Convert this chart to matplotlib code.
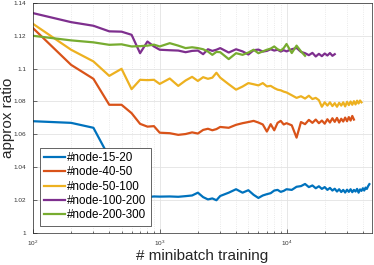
import numpy as np
import matplotlib.pyplot as plt

plt.rcParams['font.family'] = ['Liberation Sans', 'DejaVu Sans']

# minibatch index grid (samples every 100 early, sparser later)
steps = np.concatenate([
    np.arange(100, 1001, 100),
    np.arange(1200, 3001, 200),
    np.arange(3500, 10001, 500),
    np.arange(11000, 45001, 1000),
])

node_15_20 = [1.068, 1.067, 1.064, 1.046, 1.031, 1.0225, 1.022, 1.0218, 1.0222, 1.0221,
              1.0222, 1.022, 1.0224, 1.0228, 1.0245, 1.0218, 1.0204, 1.021, 1.0199, 1.0225,
              1.0245, 1.0266, 1.0245, 1.026, 1.0232, 1.0213, 1.0228, 1.0236, 1.0242, 1.0258,
              1.0262, 1.025, 1.0256, 1.0266,
              1.0262, 1.0281, 1.0285, 1.0298, 1.0279, 1.0289, 1.0272, 1.0284, 1.0268, 1.0279,
              1.0262, 1.0274, 1.0258, 1.0269, 1.0252, 1.0266, 1.0249, 1.0262, 1.0246, 1.0263,
              1.0250, 1.0266, 1.0248, 1.0262, 1.0252, 1.0268, 1.0245, 1.0265, 1.0256, 1.0272,
              1.0258, 1.0276, 1.0268, 1.0285, 1.0297]
node_40_50 = [1.1247, 1.1023, 1.0938, 1.078, 1.078, 1.0729, 1.0664, 1.0647, 1.065, 1.061,
              1.0607, 1.0597, 1.0602, 1.0612, 1.0605, 1.0627, 1.0634, 1.0625, 1.0632, 1.0645,
              1.064, 1.0658, 1.0668, 1.0675, 1.0682, 1.0672, 1.066, 1.0617, 1.0662, 1.0625,
              1.067, 1.0682, 1.066, 1.0668,
              1.0655, 1.0580, 1.0675, 1.0662, 1.0688, 1.0670, 1.0690, 1.0668, 1.0684, 1.0665,
              1.0692, 1.0672, 1.0698, 1.0676, 1.0700, 1.0672, 1.0695, 1.0678, 1.0702, 1.0680,
              1.0705, 1.0684, 1.0712, 1.0690]
node_50_100 = [1.1273, 1.1115, 1.1044, 1.0956, 1.0999, 1.0875, 1.0932, 1.093, 1.0932, 1.0907,
               1.0940, 1.0895, 1.0928, 1.0950, 1.0925, 1.0948, 1.0938, 1.0945, 1.0975, 1.0945,
               1.0905, 1.0872, 1.0891, 1.0912, 1.0905, 1.0898, 1.0912, 1.0892, 1.0895, 1.0882,
               1.0872, 1.0868, 1.086, 1.0855,
               1.0838, 1.0822, 1.0832, 1.0818, 1.0835, 1.0815, 1.0822, 1.0808, 1.0768, 1.0795,
               1.0775, 1.0795, 1.0772, 1.0790, 1.0768, 1.0792, 1.0775, 1.0795, 1.0770, 1.0798,
               1.0778, 1.0800, 1.0780, 1.0802, 1.0782, 1.0805, 1.0788, 1.0806, 1.0795]
node_100_200 = [1.1338, 1.1283, 1.1261, 1.1227, 1.1225, 1.1206, 1.1094, 1.1165, 1.1135, 1.1115,
                1.1112, 1.1110, 1.1100, 1.1108, 1.1110, 1.1088, 1.1118, 1.1108, 1.1115, 1.1125,
                1.1098, 1.1118, 1.1105, 1.1086, 1.1112, 1.1116, 1.1104, 1.1108, 1.1118, 1.1110,
                1.1115, 1.1104, 1.1112, 1.1105,
                1.1118, 1.1126, 1.1102, 1.1094, 1.1082, 1.1096, 1.1074, 1.1090, 1.1076, 1.1092,
                1.1080, 1.1095, 1.1078, 1.1088]
node_200_300 = [1.12, 1.1172, 1.116, 1.1145, 1.1148, 1.1135, 1.1137, 1.114, 1.1146, 1.1135,
                1.1155, 1.1140, 1.1125, 1.1130, 1.1125, 1.1118, 1.1104, 1.1084, 1.1102, 1.1100,
                1.1058, 1.1094, 1.1084, 1.1098, 1.1115, 1.1094, 1.1105, 1.1115, 1.1122, 1.1135,
                1.1118, 1.1110, 1.1125, 1.1150,
                1.1095, 1.1140, 1.1105, 1.1078]

series = [
    ('#node-15-20', node_15_20, '#0072BD'),
    ('#node-40-50', node_40_50, '#D95319'),
    ('#node-50-100', node_50_100, '#EDB120'),
    ('#node-100-200', node_100_200, '#7E2F8E'),
    ('#node-200-300', node_200_300, '#77AC30'),
]

fig = plt.figure(figsize=(3.74, 2.65), dpi=100)
ax = fig.add_axes([0.088, 0.121, 0.906, 0.868])

for name, vals, col in series:
    ax.plot(steps[:len(vals)], vals, color=col, lw=1.6, label=name)

ax.set_xscale('log')
ax.set_xlim(100, 47000)
ax.set_ylim(1, 1.14)
ax.set_yticks([1, 1.02, 1.04, 1.06, 1.08, 1.1, 1.12, 1.14])
ax.set_yticklabels(['1', '1.02', '1.04', '1.06', '1.08', '1.1', '1.12', '1.14'])

ax.grid(True, which='major', color='#e3e3e3', lw=0.6)
ax.grid(True, which='minor', axis='x', color='#e3e3e3', lw=0.6, ls=':')
ax.set_axisbelow(True)
ax.tick_params(which='both', direction='in', labelsize=4.6, colors='#333333', width=0.5)
ax.tick_params(axis='y', which='major', length=3, pad=4.8)
ax.tick_params(axis='x', which='major', length=3, pad=4.2)
ax.tick_params(which='minor', length=1.5)
for s in ax.spines.values():
    s.set_color('#262626')
    s.set_linewidth(0.5)

ax.set_xlabel('# minibatch training', fontsize=11, color='#262626')
ax.xaxis.set_label_coords(0.5, -0.07)
ax.set_ylabel('approx ratio', fontsize=11, color='#262626')
ax.yaxis.set_label_coords(-0.054, 0.5)

leg = ax.legend(loc='lower left', fontsize=8.4, handlelength=1.8, handletextpad=0.2,
                borderpad=0.35, labelspacing=0.2, borderaxespad=0, fancybox=False,
                framealpha=1, bbox_to_anchor=(0.0206, 0.032))
leg.get_frame().set_edgecolor('#262626')
leg.get_frame().set_linewidth(0.5)

fig.savefig('out.png', dpi=100)
